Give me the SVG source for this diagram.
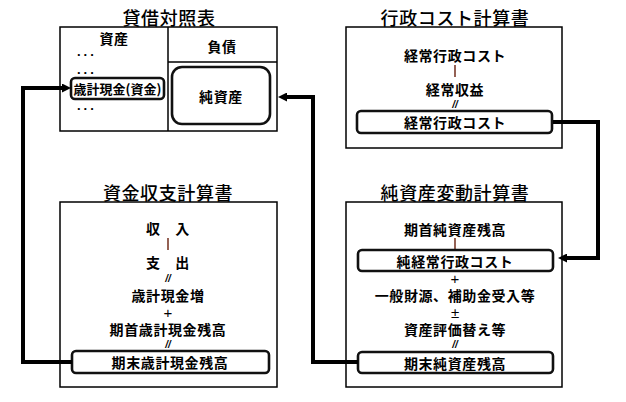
<svg xmlns="http://www.w3.org/2000/svg" width="626" height="402" viewBox="0 0 626 402">
<style>
.bg{fill:#ffffff}
.frame{fill:none;stroke:#000;stroke-width:1.5}
.rbox{fill:#fff;stroke:#111;stroke-width:2.6}
.title{font-family:"Noto Sans CJK JP","Noto Sans CJK SC",sans-serif;font-size:18px;font-weight:500;letter-spacing:0.6px;text-anchor:middle;dominant-baseline:central;fill:#000}
.t{font-family:"Noto Sans CJK JP","Noto Sans CJK SC",sans-serif;font-size:14px;font-weight:bold;letter-spacing:0.6px;text-anchor:middle;dominant-baseline:central;fill:#000}
.ts{font-family:"Noto Sans CJK JP","Noto Sans CJK SC",sans-serif;font-size:13px;font-weight:bold;text-anchor:middle;dominant-baseline:central;fill:#000}
.op{font-family:"Liberation Sans",sans-serif;font-size:15px;text-anchor:middle;dominant-baseline:central;fill:#000}
.eq{font-family:"Liberation Sans",sans-serif;font-size:10px;font-style:italic;font-weight:bold;text-anchor:middle;dominant-baseline:central;fill:#000}
.bar{stroke:#7a3a2a;stroke-width:1.6}
.dots{font-family:"Liberation Sans",sans-serif;font-size:13px;font-weight:bold;fill:#000;letter-spacing:3px}
.conn{fill:none;stroke:#000;stroke-width:4;stroke-linejoin:miter}
</style>
<defs>
<marker id="arr" markerUnits="userSpaceOnUse" markerWidth="9" markerHeight="9" refX="0" refY="4.5" orient="auto">
<path d="M0,0 L9,4.5 L0,9 z" fill="#000"/>
</marker>
</defs>
<rect class="bg" x="0" y="0" width="626" height="402"/>

<g id="balance-sheet">
<text class="title" x="169" y="17">貸借対照表</text>
<rect class="frame" x="60" y="27" width="217" height="104"/>
<line class="frame" x1="168" y1="27" x2="168" y2="131"/>
<line class="frame" x1="168" y1="62" x2="277" y2="62"/>
<text class="t" x="114" y="38">資産</text>
<text class="t" x="222" y="46">負債</text>
<text class="dots" x="77" y="56">...</text>
<text class="dots" x="77" y="74">...</text>
<text class="dots" x="77" y="110">...</text>
<g id="cash-node">
<rect class="rbox" x="71" y="78" width="93" height="21" rx="4"/>
<text class="ts" x="117.5" y="88.5">歳計現金(資金)</text>
</g>
<g id="net-assets-node">
<rect class="rbox" x="172" y="67" width="98" height="57" rx="10"/>
<text class="t" x="221" y="96">純資産</text>
</g>
</g>

<g id="admin-cost">
<text class="title" x="455" y="17">行政コスト計算書</text>
<rect class="frame" x="346" y="27" width="216" height="121"/>
<text class="t" x="455" y="55">経常行政コスト</text>
<line class="bar" x1="455" y1="65" x2="455" y2="77"/>
<text class="t" x="455" y="89">経常収益</text>
<text class="eq" x="455" y="104">//</text>
<g id="admin-cost-result">
<rect class="rbox" x="357" y="111" width="195" height="22" rx="4"/>
<text class="t" x="455" y="122">経常行政コスト</text>
</g>
</g>

<g id="cash-flow">
<text class="title" x="168" y="192">資金収支計算書</text>
<rect class="frame" x="60" y="202" width="217" height="185"/>
<text class="t" x="168" y="228">収　入</text>
<line class="bar" x1="168" y1="238" x2="168" y2="250"/>
<text class="t" x="168" y="262">支　出</text>
<text class="eq" x="168" y="278">//</text>
<text class="t" x="168" y="295">歳計現金増</text>
<text class="op" x="168" y="312">+</text>
<text class="t" x="168" y="329">期首歳計現金残高</text>
<text class="eq" x="168" y="344">//</text>
<g id="cash-end">
<rect class="rbox" x="72" y="351" width="197" height="22" rx="4"/>
<text class="t" x="170" y="362">期末歳計現金残高</text>
</g>
</g>

<g id="net-assets-change">
<text class="title" x="455" y="192">純資産変動計算書</text>
<rect class="frame" x="346" y="202" width="216" height="185"/>
<text class="t" x="455" y="229">期首純資産残高</text>
<line class="bar" x1="455" y1="238" x2="455" y2="249"/>
<g id="net-cost">
<rect class="rbox" x="358" y="250" width="195" height="21" rx="4"/>
<text class="t" x="455" y="260.5">純経常行政コスト</text>
</g>
<text class="op" x="455" y="278">+</text>
<text class="t" x="455" y="295">一般財源、補助金受入等</text>
<text class="op" x="455" y="312">±</text>
<text class="t" x="455" y="329">資産評価替え等</text>
<text class="eq" x="455" y="344">//</text>
<g id="net-assets-end">
<rect class="rbox" x="358" y="352" width="195" height="21" rx="4"/>
<text class="t" x="455" y="362.5">期末純資産残高</text>
</g>
</g>

<g id="connectors">
<path class="conn" d="M72,362 H23 V88 H62" marker-end="url(#arr)"/>
<path class="conn" d="M358,362 H313 V97 H287" marker-end="url(#arr)"/>
<path class="conn" d="M553,122 H598 V258 H567" marker-end="url(#arr)"/>
</g>
</svg>
